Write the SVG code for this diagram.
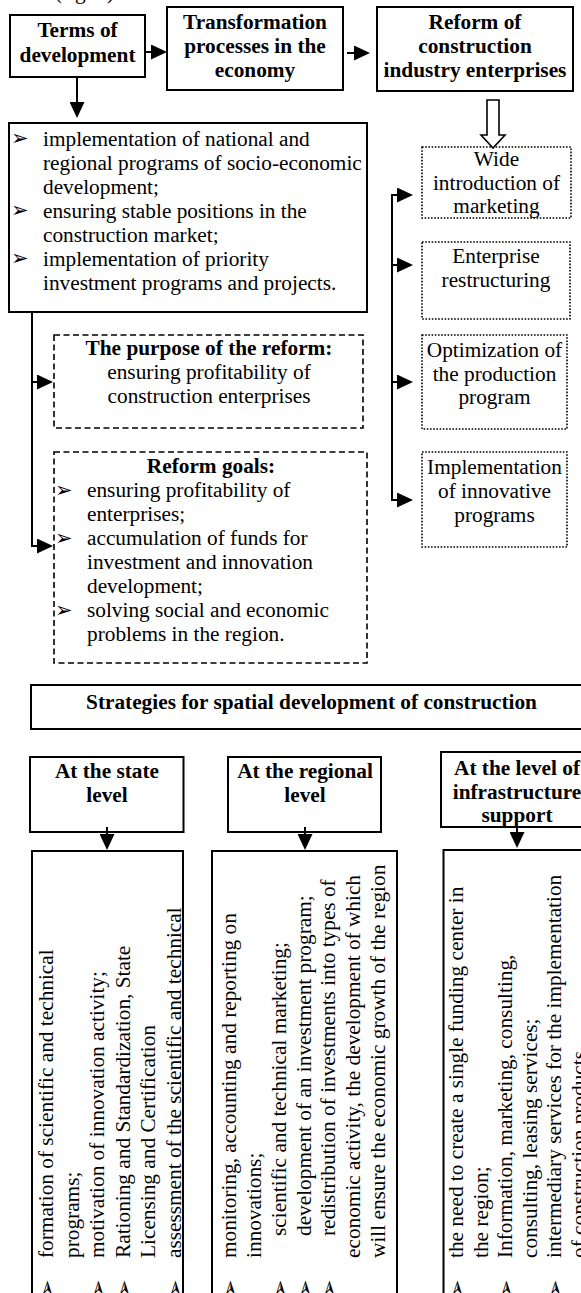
<svg xmlns="http://www.w3.org/2000/svg" width="581" height="1293" viewBox="0 0 581 1293">
<style>
.t{font-family:"Liberation Serif","Times New Roman",serif;font-size:21.3px;fill:#000}
.b{font-weight:bold}
.m{text-anchor:middle}
.bul{font-family:"DejaVu Sans",sans-serif;font-size:21px;fill:#000}
.box{fill:#fff;stroke:#000;stroke-width:2}
.dash{fill:#fff;stroke:#000;stroke-width:1.6;stroke-dasharray:6 3.5}
.dot{fill:#fff;stroke:#000;stroke-width:1.6;stroke-dasharray:1.6 1.6}
.c{fill:none;stroke:#000;stroke-width:2}
</style>
<defs>
<marker id="ah" markerUnits="userSpaceOnUse" markerWidth="16" markerHeight="15" refX="14" refY="7.5" orient="auto">
<path d="M0,0 L16,7.5 L0,15 Z" fill="#000"/>
</marker>
</defs>
<rect width="581" height="1293" fill="#fff"/>
<text class="t" x="55" y="-1">(fig. 2)</text>

<g id="terms">
<rect class="box" x="10" y="15" width="135" height="62"/>
<text class="t b m" x="77.5" y="37">Terms of</text>
<text class="t b m" x="77.5" y="62">development</text>
</g>
<g id="transformation">
<rect class="box" x="167" y="7" width="176" height="83"/>
<text class="t b m" x="255" y="29">Transformation</text>
<text class="t b m" x="255" y="53">processes in the</text>
<text class="t b m" x="255" y="77">economy</text>
</g>
<g id="reform">
<rect class="box" x="377" y="7" width="196" height="84"/>
<text class="t b m" x="475" y="29">Reform of</text>
<text class="t b m" x="475" y="53">construction</text>
<text class="t b m" x="475" y="77">industry enterprises</text>
</g>
<g id="conditions">
<rect class="box" x="9" y="123" width="358" height="189"/>
<text class="bul" x="11" y="145">➢</text>
<text class="bul" x="11" y="217">➢</text>
<text class="bul" x="11" y="265">➢</text>
<text class="t" x="43" y="145.5">implementation of national and</text>
<text class="t" x="43" y="169.5">regional programs of socio-economic</text>
<text class="t" x="43" y="193.5">development;</text>
<text class="t" x="43" y="217.5">ensuring stable positions in the</text>
<text class="t" x="43" y="241.5">construction market;</text>
<text class="t" x="43" y="265.5">implementation of priority</text>
<text class="t" x="43" y="289.5">investment programs and projects.</text>
</g>
<g id="purpose">
<rect class="dash" x="54" y="335" width="309" height="93"/>
<text class="t b m" x="209" y="355">The purpose of the reform:</text>
<text class="t m" x="209" y="379">ensuring profitability of</text>
<text class="t m" x="209" y="403">construction enterprises</text>
</g>
<g id="goals">
<rect class="dash" x="54" y="452" width="313" height="211"/>
<text class="t b m" x="211" y="473">Reform goals:</text>
<text class="bul" x="55" y="497">➢</text>
<text class="bul" x="55" y="545">➢</text>
<text class="bul" x="55" y="617">➢</text>
<text class="t" x="87" y="497">ensuring profitability of</text>
<text class="t" x="87" y="521">enterprises;</text>
<text class="t" x="87" y="545">accumulation of funds for</text>
<text class="t" x="87" y="569">investment and innovation</text>
<text class="t" x="87" y="593">development;</text>
<text class="t" x="87" y="617">solving social and economic</text>
<text class="t" x="87" y="641">problems in the region.</text>
</g>
<g id="marketing">
<rect class="dot" x="422" y="147" width="149" height="71"/>
<text class="t m" x="496.5" y="166">Wide</text>
<text class="t m" x="496.5" y="189.5">introduction of</text>
<text class="t m" x="496.5" y="213">marketing</text>
</g>
<g id="restructuring">
<rect class="dot" x="422" y="242" width="148" height="77"/>
<text class="t m" x="496" y="263">Enterprise</text>
<text class="t m" x="496" y="287">restructuring</text>
</g>
<g id="optimization">
<rect class="dot" x="422" y="335" width="145" height="94"/>
<text class="t m" x="494.5" y="357">Optimization of</text>
<text class="t m" x="494.5" y="380.5">the production</text>
<text class="t m" x="494.5" y="404">program</text>
</g>
<g id="innovative">
<rect class="dot" x="422" y="452" width="145" height="95"/>
<text class="t m" x="494.5" y="474">Implementation</text>
<text class="t m" x="494.5" y="498">of innovative</text>
<text class="t m" x="494.5" y="522">programs</text>
</g>

<g id="strategies">
<rect class="box" x="31" y="685" width="580" height="44"/>
<text class="t b m" x="311.5" y="709">Strategies for spatial development of construction</text>
</g>
<g id="state-head">
<rect class="box" x="30" y="757" width="153.5" height="75"/>
<text class="t b m" x="107" y="778">At the state</text>
<text class="t b m" x="107" y="802">level</text>
</g>
<g id="regional-head">
<rect class="box" x="228" y="757" width="153" height="75"/>
<text class="t b m" x="305" y="778">At the regional</text>
<text class="t b m" x="305" y="802">level</text>
</g>
<g id="infra-head">
<rect class="box" x="441" y="752" width="160" height="75"/>
<text class="t b m" x="517" y="775">At the level of</text>
<text class="t b m" x="517" y="799">infrastructure</text>
<text class="t b m" x="517" y="822">support</text>
</g>
<g id="state-body">
<rect class="box" x="32" y="851" width="151" height="460"/>
<g transform="translate(53,1258) rotate(-90)"><text class="t">formation of scientific and technical</text></g>
<g transform="translate(78.5,1258) rotate(-90)"><text class="t">programs;</text></g>
<g transform="translate(104,1258) rotate(-90)"><text class="t">motivation of innovation activity;</text></g>
<g transform="translate(129.5,1258) rotate(-90)"><text class="t">Rationing and Standardization, State</text></g>
<g transform="translate(155,1258) rotate(-90)"><text class="t">Licensing and Certification</text></g>
<g transform="translate(180.5,1258) rotate(-90)"><text class="t">assessment of the scientific and technical</text></g>
<g transform="translate(54,1297) rotate(-90)"><text class="bul">➢</text></g>
<g transform="translate(105,1297) rotate(-90)"><text class="bul">➢</text></g>
<g transform="translate(130.5,1297) rotate(-90)"><text class="bul">➢</text></g>
<g transform="translate(181.5,1297) rotate(-90)"><text class="bul">➢</text></g>
</g>
<g id="regional-body">
<rect class="box" x="212" y="851" width="185" height="460"/>
<g transform="translate(236,1258) rotate(-90)"><text class="t">monitoring, accounting and reporting on</text></g>
<g transform="translate(260.8,1258) rotate(-90)"><text class="t">innovations;</text></g>
<g transform="translate(285.7,1236) rotate(-90)"><text class="t">scientific and technical marketing;</text></g>
<g transform="translate(310.5,1236) rotate(-90)"><text class="t">development of an investment program;</text></g>
<g transform="translate(335.3,1236) rotate(-90)"><text class="t">redistribution of investments into types of</text></g>
<g transform="translate(360.2,1258) rotate(-90)"><text class="t">economic activity, the development of which</text></g>
<g transform="translate(385,1258) rotate(-90)"><text class="t">will ensure the economic growth of the region</text></g>
<g transform="translate(237,1297) rotate(-90)"><text class="bul">➢</text></g>
<g transform="translate(286.7,1297) rotate(-90)"><text class="bul">➢</text></g>
<g transform="translate(311.5,1297) rotate(-90)"><text class="bul">➢</text></g>
<g transform="translate(336.3,1297) rotate(-90)"><text class="bul">➢</text></g>
</g>
<g id="infra-body">
<rect class="box" x="443.5" y="850" width="160" height="460"/>
<g transform="translate(463,1258) rotate(-90)"><text class="t">the need to create a single funding center in</text></g>
<g transform="translate(487.5,1258) rotate(-90)"><text class="t">the region;</text></g>
<g transform="translate(512,1258) rotate(-90)"><text class="t">Information, marketing, consulting,</text></g>
<g transform="translate(536.5,1258) rotate(-90)"><text class="t">consulting, leasing services;</text></g>
<g transform="translate(561,1258) rotate(-90)"><text class="t">intermediary services for the implementation</text></g>
<g transform="translate(585.5,1258) rotate(-90)"><text class="t">of construction products</text></g>
<g transform="translate(464,1297) rotate(-90)"><text class="bul">➢</text></g>
<g transform="translate(513,1297) rotate(-90)"><text class="bul">➢</text></g>
<g transform="translate(562,1297) rotate(-90)"><text class="bul">➢</text></g>
</g>

<g id="connectors">
<line class="c" x1="145" y1="52" x2="165" y2="52" marker-end="url(#ah)"/>
<line class="c" x1="347" y1="53" x2="368" y2="53" marker-end="url(#ah)"/>
<line class="c" x1="77" y1="77" x2="77" y2="116" marker-end="url(#ah)"/>
<path d="M487,100 H499 V135 H505 L493,148 L481,135 H487 Z" fill="#fff" stroke="#000" stroke-width="1.6"/>
<path class="c" d="M32,312 V546"/>
<line class="c" x1="31" y1="382" x2="51" y2="382" marker-end="url(#ah)"/>
<line class="c" x1="31" y1="546" x2="51" y2="546" marker-end="url(#ah)"/>
<path class="c" d="M392,195 V500"/>
<line class="c" x1="391" y1="195" x2="411" y2="195" marker-end="url(#ah)"/>
<line class="c" x1="391" y1="265" x2="411" y2="265" marker-end="url(#ah)"/>
<line class="c" x1="391" y1="382" x2="411" y2="382" marker-end="url(#ah)"/>
<line class="c" x1="391" y1="500" x2="411" y2="500" marker-end="url(#ah)"/>
<line class="c" x1="107" y1="827" x2="107" y2="848" marker-end="url(#ah)"/>
<line class="c" x1="305" y1="827" x2="305" y2="848" marker-end="url(#ah)"/>
<line class="c" x1="517" y1="827" x2="517" y2="846" marker-end="url(#ah)"/>
</g>
</svg>
